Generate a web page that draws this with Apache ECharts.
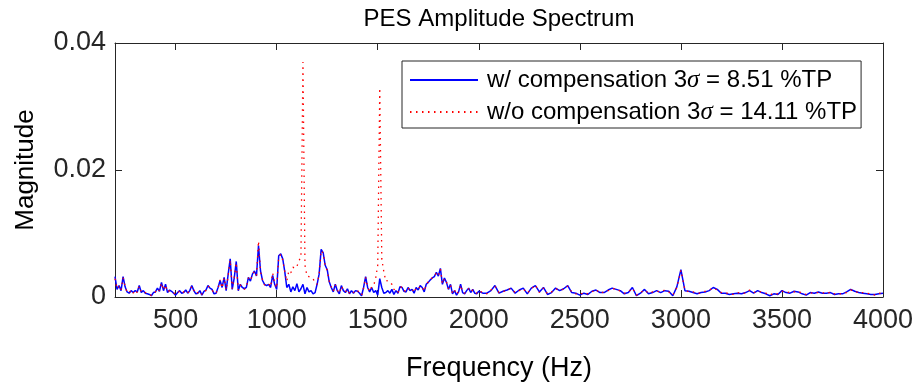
<!DOCTYPE html>
<html><head><meta charset="utf-8">
<script src="https://cdn.jsdelivr.net/npm/echarts@6/dist/echarts.min.js"></script>
<style>html,body{margin:0;padding:0;background:#fff}#c{width:917px;height:387px}</style>
</head><body><div id="c"></div>
<script>
// Frequency bins (Hz)
const freqLow = [
 200,210,220,230,240,250,260,270,280,290,
 300,310,320,330,340,350,360,370,380,390,
 400,410,420,430,440,450,460,470,480,490,
 500,510,520,530,540,550,560,570,580,590,
 600,610,620,630,640,650,660,670,680,690,
 700,710,720,730,740,750,760,770,780,790,
 800,810,820,830,840,850,860,870,880,890,
 900,910,920,930,940,950,960,970,980,990,
 1000,1010,1020,1030,1040,1050,1060,1070,1080,1090,
 1100,1110,1120,1130,1140,1150,1160,1170,1180,1190,
 1200,1210,1220,1230,1240,1250,1260,1270,1280,1290,
 1300,1310,1320,1330,1340,1350,1360,1370,1380,1390,
 1400,1410,1420,1430,1440,1450,1460,1470,1480,1490,
 1500,1510,1520,1530,1540,1550,1560,1570,1580,1590,
 1600,1610,1620,1630,1640,1650,1660,1670,1680,1690,
 1700,1710,1720,1730,1740,1750,1760,1770,1780,1790,
 1800,1810,1820,1830,1840,1850,1860,1870,1880,1890,
 1900,1910,1920,1930,1940,1950,1960,1970,1980,1990,
 2000];
const freqHigh = [
 2020,2040,2060,2080,2100,2120,2140,2160,2180,2200,
 2220,2240,2260,2280,2300,2320,2340,2360,2380,2400,
 2420,2440,2460,2480,2500,2520,2540,2560,2580,2600,
 2620,2640,2660,2680,2700,2720,2740,2760,2780,2800,
 2820,2840,2860,2880,2900,2920,2940,2960,2980,3000,
 3020,3040,3060,3080,3100,3120,3140,3160,3180,3200,
 3220,3240,3260,3280,3300,3320,3340,3360,3380,3400,
 3420,3440,3460,3480,3500,3520,3540,3560,3580,3600,
 3620,3640,3660,3680,3700,3720,3740,3760,3780,3800,
 3820,3840,3860,3880,3900,3920,3940,3960,3980,4000];

// w/ compensation (blue)
const blueLow = [
 .0032,.0012,.0018,.0010,.0032,.0016,.0008,.0006,.0010,.0007,
 .0010,.0008,.0018,.0007,.0010,.0006,.0005,.0004,.0002,.0007,
 .0008,.0014,.0009,.0023,.0010,.0020,.0007,.0011,.0009,.0006,
 .0003,.0007,.0010,.0006,.0007,.0011,.0006,.0010,.0018,.0010,
 .0005,.0006,.0010,.0003,.0009,.0011,.0018,.0014,.0012,.0005,
 .0006,.0015,.0026,.0015,.0031,.0010,.0036,.0060,.0012,.0030,
 .0056,.0010,.0020,.0015,.0013,.0015,.0031,.0025,.0036,.0041,
 .0033,.0081,.0041,.0026,.0020,.0018,.0020,.0015,.0034,.0020,
 .0012,.0065,.0068,.0060,.0040,.0015,.0020,.0008,.0016,.0010,
 .0021,.0008,.0013,.0020,.0005,.0015,.0008,.0010,.0005,.0007,
 .0020,.0036,.0075,.0070,.0050,.0043,.0024,.0015,.0008,.0020,
 .0010,.0005,.0018,.0010,.0007,.0013,.0005,.0010,.0006,.0010,
 .0009,.0006,.0002,.0015,.0032,.0015,.0008,.0015,.0007,.0010,
 .0003,.0029,.0015,.0006,.0007,.0010,.0006,.0012,.0004,.0010,
 .0006,.0016,.0015,.0009,.0008,.0015,.0010,.0012,.0006,.0015,
 .0011,.0018,.0015,.0008,.0020,.0023,.0027,.0030,.0032,.0039,
 .0033,.0045,.0020,.0030,.0023,.0012,.0020,.0005,.0010,.0003,
 .0008,.0020,.0007,.0005,.0010,.0014,.0007,.0012,.0006,.0005,
 .0009];
const blueHigh = [
 .0006,.0006,.0010,.0018,.0006,.0009,.0011,.0014,.0006,.0011,
 .0014,.0005,.0014,.0018,.0008,.0015,.0004,.0007,.0014,.0010,
 .0013,.0018,.0007,.0006,.0003,.0006,.0004,.0009,.0011,.0007,
 .0007,.0011,.0014,.0012,.0010,.0005,.0007,.0015,.0002,.0006,
 .0012,.0005,.0007,.0010,.0007,.0010,.0009,.0002,.0016,.0043,
 .0010,.0009,.0007,.0005,.0007,.0008,.0010,.0015,.0012,.0006,
 .0006,.0004,.0005,.0006,.0005,.0007,.0010,.0006,.0010,.0007,
 .0005,.0002,.0005,.0004,.0010,.0007,.0006,.0009,.0008,.0005,
 .0003,.0007,.0006,.0008,.0006,.0006,.0007,.0004,.0005,.0005,
 .0008,.0012,.0009,.0007,.0006,.0005,.0004,.0004,.0005,.0006];

// w/o compensation (red)
const redLow = [
 .0029,.0013,.0017,.0011,.0030,.0017,.0007,.0007,.0011,.0006,
 .0011,.0007,.0017,.0008,.0009,.0007,.0005,.0003,.0003,.0006,
 .0008,.0013,.0010,.0022,.0011,.0019,.0008,.0010,.0009,.0007,
 .0004,.0007,.0009,.0006,.0008,.0010,.0007,.0009,.0017,.0011,
 .0005,.0007,.0009,.0004,.0009,.0010,.0017,.0015,.0011,.0006,
 .0006,.0014,.0027,.0014,.0030,.0011,.0034,.0058,.0013,.0031,
 .0054,.0011,.0019,.0016,.0012,.0016,.0030,.0026,.0035,.0040,
 .0034,.0088,.0040,.0027,.0019,.0019,.0021,.0016,.0038,.0022,
 .0014,.0063,.0067,.0058,.0040,.0025,.0041,.0038,.0047,.0045,
 .0048,.0057,.0063,.0370,.0050,.0033,.0032,.0030,.0029,.0022,
 .0020,.0035,.0073,.0069,.0049,.0042,.0025,.0016,.0009,.0019,
 .0011,.0006,.0017,.0011,.0008,.0012,.0006,.0009,.0007,.0011,
 .0010,.0007,.0003,.0014,.0031,.0016,.0009,.0016,.0018,.0030,
 .0050,.0329,.0060,.0040,.0025,.0026,.0023,.0020,.0012,.0011,
 .0007,.0015,.0016,.0010,.0009,.0014,.0011,.0013,.0007,.0014,
 .0012,.0017,.0016,.0009,.0019,.0024,.0026,.0031,.0033,.0038,
 .0034,.0044,.0021,.0029,.0024,.0013,.0019,.0006,.0011,.0004,
 .0009,.0019,.0008,.0006,.0011,.0013,.0008,.0011,.0007,.0006,
 .0010];
const redHigh = [
 .0007,.0005,.0011,.0017,.0007,.0008,.0012,.0013,.0007,.0010,
 .0013,.0006,.0013,.0019,.0007,.0014,.0005,.0008,.0013,.0011,
 .0012,.0017,.0008,.0005,.0004,.0007,.0005,.0008,.0012,.0006,
 .0008,.0010,.0013,.0013,.0009,.0006,.0008,.0014,.0003,.0007,
 .0011,.0006,.0008,.0009,.0008,.0011,.0008,.0003,.0015,.0042,
 .0011,.0008,.0008,.0006,.0006,.0009,.0011,.0014,.0011,.0007,
 .0007,.0005,.0004,.0007,.0006,.0006,.0011,.0007,.0009,.0008,
 .0006,.0003,.0006,.0005,.0009,.0008,.0007,.0008,.0009,.0006,
 .0004,.0006,.0007,.0007,.0007,.0005,.0008,.0005,.0004,.0006,
 .0007,.0011,.0010,.0006,.0007,.0006,.0005,.0003,.0006,.0005];

const xTicks = [500,1000,1500,2000,2500,3000,3500,4000];
const yTicks = [0,0.02,0.04];
const seriesNames = ['w/ compensation','w/o compensation'];
const sigmaLabels = ['8.51','14.11'];

const freq = freqLow.concat(freqHigh);
const blue = blueLow.concat(blueHigh);
const red = redLow.concat(redHigh);
const blueData = freq.map((f,i)=>[f, blue[i]]);
const redData = freq.map((f,i)=>[f, red[i]]);

const FONT = '"Liberation Sans", Arial, Helvetica, sans-serif';
const AX = '#262626';
const chart = echarts.init(document.getElementById('c'), null, {renderer:'canvas'});

function boxAxis(pos, isX, main){
  const a = {
    type:'value', position:pos,
    axisLine:{show:true, onZero:false, lineStyle:{color:AX, width:1}},
    axisTick:{show:true, inside:true, length:7, lineStyle:{color:AX, width:1}},
    splitLine:{show:false},
    axisLabel:{show:main, color:'#262626', fontFamily:FONT, fontSize:27,
      formatter:function(v){ return String(v); }}
  };
  if (isX){
    a.min = 200; a.max = 4000;
    a.axisTick.customValues = xTicks;
    a.axisLabel.customValues = xTicks;
    a.axisLabel.margin = 10;
  } else {
    a.min = 0; a.max = 0.04; a.interval = 0.02;
    a.axisTick.customValues = yTicks;
    a.axisLabel.customValues = yTicks;
    a.axisLabel.margin = 9;
  }
  return a;
}
const xMain = boxAxis('bottom', true, true);
xMain.name = 'Frequency (Hz)'; xMain.nameLocation = 'middle'; xMain.nameGap = 58;
xMain.nameTextStyle = {fontFamily:FONT, fontSize:27, color:'#000'};
const yMain = boxAxis('left', false, true);
yMain.name = 'Magnitude'; yMain.nameLocation = 'middle'; yMain.nameGap = 76; yMain.nameRotate = 90;
yMain.nameTextStyle = {fontFamily:FONT, fontSize:26, color:'#000'};

chart.setOption({
  animation:false,
  backgroundColor:'#fff',
  grid:{left:115, right:34, top:43, bottom:89, containLabel:false},
  graphic:[{type:'text', x:499, y:19, style:{text:'PES Amplitude Spectrum', align:'center', verticalAlign:'middle', font:'24px ' + FONT, fill:'#000'}}],
  xAxis:[xMain, boxAxis('top', true, false)],
  yAxis:[yMain, boxAxis('right', false, false)],
  legend:{
    orient:'vertical', left:402, top:61, padding:[5,4,2,7], itemGap:4,
    itemWidth:68, itemHeight:14, selectedMode:false,
    backgroundColor:'#fff', borderColor:AX, borderWidth:1, borderRadius:0,
    itemStyle:{color:'rgba(0,0,0,0)', borderColor:'rgba(0,0,0,0)', borderWidth:0, opacity:0},
    data:seriesNames,
    formatter:function(n){
      const i = seriesNames.indexOf(n);
      return '{t|' + n + ' 3}{s|σ}{t| = ' + sigmaLabels[i] + ' %TP}';
    },
    textStyle:{fontFamily:FONT, fontSize:24, color:'#000', lineHeight:28, padding:[0,0,0,4],
      rich:{t:{fontFamily:FONT, fontSize:24, color:'#000'}, s:{fontFamily:'"Liberation Serif", "Times New Roman", serif', fontStyle:'italic', fontSize:25, color:'#000'}}}
  },
  series:[
    {type:'line', name:seriesNames[0], data:blueData, symbol:'none', xAxisIndex:0, yAxisIndex:0,
     lineStyle:{color:'#0000ff', width:1.5}, itemStyle:{color:'#0000ff'}},
    {type:'line', name:seriesNames[1], data:redData, symbol:'none', xAxisIndex:0, yAxisIndex:0,
     lineStyle:{color:'#ff0000', width:1.3, type:[1.5,4.5]}, itemStyle:{color:'#ff0000'}}
  ]
});
</script></body></html>
